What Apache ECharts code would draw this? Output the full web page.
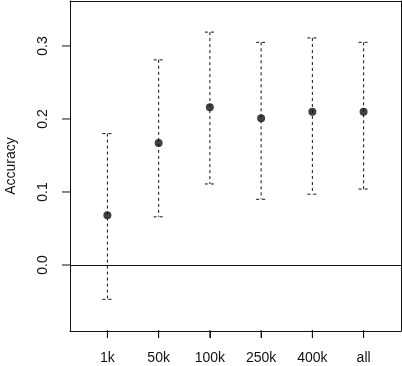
<!DOCTYPE html>
<html>
<head>
<meta charset="utf-8">
<script src="https://cdn.jsdelivr.net/npm/echarts@6/dist/echarts.min.js"></script>
<style>
  html, body { margin: 0; padding: 0; background: #fff; }
  #chart { width: 402px; height: 366px; }
</style>
</head>
<body>
<div id="chart"></div>
<script>
// data
const categories = ['1k', '50k', '100k', '250k', '400k', 'all'];
const means = [0.068, 0.167, 0.216, 0.201, 0.210, 0.210];
const upper = [0.180, 0.281, 0.319, 0.305, 0.311, 0.305];
const lower = [-0.047, 0.066, 0.111, 0.090, 0.097, 0.104];
const yTicks = [0, 0.1, 0.2, 0.3];
const xPositions = categories.map((c, i) => i + 1);

const X_MIN = 0.27, X_MAX = 6.73;
const Y_MIN = -0.0904, Y_MAX = 0.3616;

const ink = '#111';
const font = '"Liberation Sans", Arial, Helvetica, sans-serif';

const chart = echarts.init(document.getElementById('chart'));

const pointData = means.map((m, i) => [xPositions[i], m]);
const barData = means.map((m, i) => [xPositions[i], lower[i], upper[i]]);

// plain axis used only to close the box on top / right
const frameAxis = (position, min, max) => ({
  type: 'value',
  position,
  min,
  max,
  axisLine: { show: true, onZero: false, lineStyle: { color: ink, width: 1 } },
  axisTick: { show: false },
  axisLabel: { show: false },
  splitLine: { show: false },
});

// R style tick marks, starting just inside the box line and pointing out
const tickSeries = (data, dx, dy) => ({
  type: 'custom',
  clip: false,
  data,
  encode: { x: 0, y: 1 },
  z: 5,
  renderItem: (params, api) => {
    const p = api.coord([api.value(0), api.value(1)]);
    return {
      type: 'line',
      shape: { x1: p[0] - Math.sign(dx), y1: p[1] - Math.sign(dy), x2: p[0] + dx, y2: p[1] + dy },
      style: { stroke: ink, lineWidth: 1 },
    };
  },
});

const option = {
  animation: false,
  backgroundColor: '#fff',
  grid: {
    left: 70,
    right: 1,
    top: 1,
    bottom: 35,
    outerBoundsMode: 'none',
  },
  xAxis: [
    {
      type: 'value',
      position: 'bottom',
      min: X_MIN,
      max: X_MAX,
      axisLine: { show: true, onZero: false, lineStyle: { color: ink, width: 1 } },
      splitLine: { show: false },
      axisTick: {
        show: true,
        length: 7,
        customValues: xPositions,
        lineStyle: { color: ink, width: 1 },
      },
      axisLabel: {
        customValues: xPositions,
        margin: 20,
        fontSize: 14,
        fontFamily: font,
        color: ink,
        formatter: (v) => categories[Math.round(v) - 1] || '',
      },
    },
    frameAxis('top', X_MIN, X_MAX),
  ],
  yAxis: [
    {
      type: 'value',
      position: 'left',
      min: Y_MIN,
      max: Y_MAX,
      name: 'Accuracy',
      nameLocation: 'middle',
      nameRotate: 90,
      nameGap: 52,
      nameTextStyle: { fontSize: 14, fontFamily: font, color: ink },
      axisLine: { show: true, onZero: false, lineStyle: { color: ink, width: 1 } },
      splitLine: { show: false },
      axisTick: { show: false },
      axisLabel: {
        customValues: yTicks,
        rotate: 90,
        margin: 20,
        fontSize: 14,
        fontFamily: font,
        color: ink,
        formatter: (v) => v.toFixed(1),
      },
    },
    frameAxis('right', Y_MIN, Y_MAX),
  ],
  series: [
    tickSeries(yTicks.map((y) => [X_MIN, y]), -8, 0),
    tickSeries(xPositions.map((x) => [x, Y_MIN]), 0, 7),
    {
      type: 'custom',
      name: 'interval',
      data: barData,
      encode: { x: 0, y: [1, 2] },
      renderItem: (params, api) => {
        const x = api.value(0);
        const lo = api.coord([x, api.value(1)]);
        const hi = api.coord([x, api.value(2)]);
        const half = 5;
        const style = { stroke: ink, lineWidth: 1, lineDash: [3, 3] };
        return {
          type: 'group',
          children: [
            { type: 'line', shape: { x1: hi[0], y1: hi[1], x2: lo[0], y2: lo[1] }, style },
            { type: 'line', shape: { x1: hi[0] - half, y1: hi[1], x2: hi[0] + half, y2: hi[1] }, style },
            { type: 'line', shape: { x1: lo[0] - half, y1: lo[1], x2: lo[0] + half, y2: lo[1] }, style },
          ],
        };
      },
    },
    {
      type: 'scatter',
      name: 'mean',
      data: pointData,
      symbol: 'circle',
      symbolSize: 8,
      itemStyle: { color: ink },
      markLine: {
        silent: true,
        symbol: ['none', 'none'],
        label: { show: false },
        lineStyle: { color: ink, width: 1, type: 'solid' },
        data: [{ yAxis: 0 }],
      },
      z: 3,
    },
  ],
};

chart.setOption(option);
</script>
</body>
</html>
